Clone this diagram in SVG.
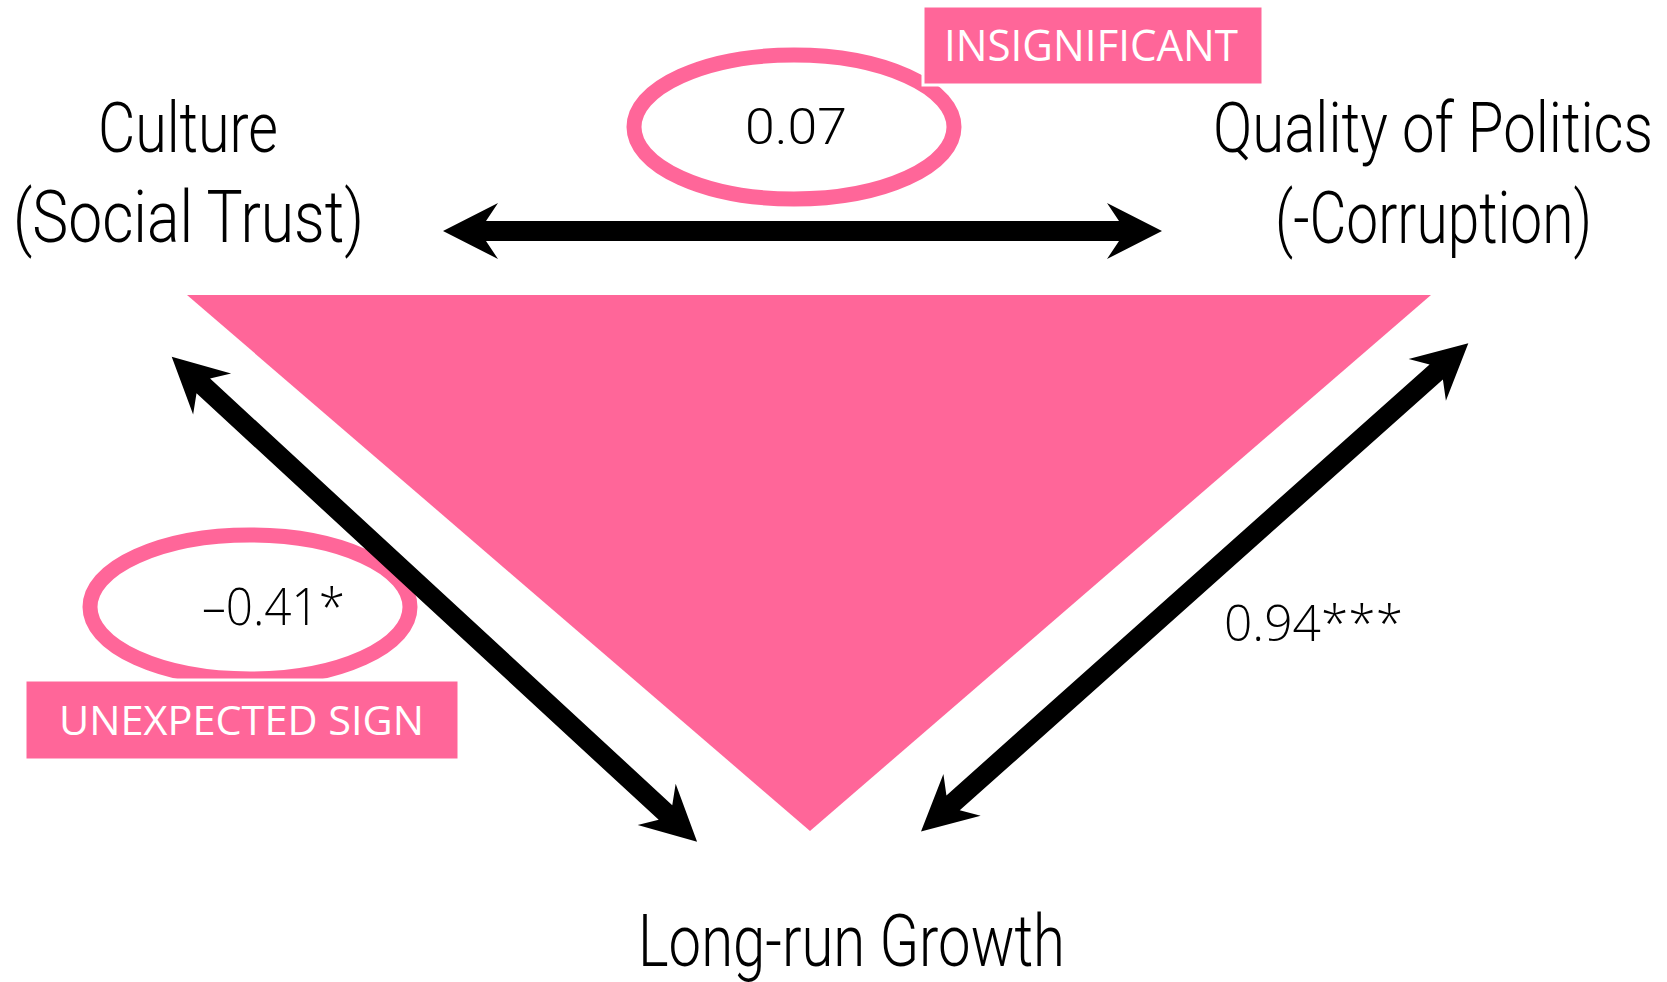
<svg xmlns="http://www.w3.org/2000/svg" width="1667" height="982" viewBox="0 0 1667 982">
<style>
.title{font-family:Roboto,"Liberation Sans",sans-serif;font-weight:300;fill:#000}
.num{font-family:"Open Sans","Noto Sans",sans-serif;font-weight:300;fill:#000}
.tag{font-family:"Open Sans","Noto Sans",sans-serif;font-weight:400;fill:#fff}
.ring{fill:#fff;stroke:#FF6699;stroke-width:15}
.box{fill:#FF6699;stroke:#fff;stroke-width:3}
.arrow{fill:#000}
</style>
<rect width="1667" height="982" fill="#fff"/>
<g id="triangle">
<polygon points="187,295 1431,295 810,831" fill="#FF6699"/>
</g>
<g id="culture">
<text class="title" x="98" y="152" font-size="70" textLength="180" lengthAdjust="spacingAndGlyphs">Culture</text>
<text class="title" x="13" y="242" font-size="72" textLength="351" lengthAdjust="spacingAndGlyphs">(Social Trust)</text>
</g>
<g id="politics">
<text class="title" x="1213" y="152" font-size="70" textLength="440" lengthAdjust="spacingAndGlyphs">Quality of Politics</text>
<text class="title" x="1275" y="243" font-size="72" textLength="317" lengthAdjust="spacingAndGlyphs">(-Corruption)</text>
</g>
<g id="growth">
<text class="title" x="638" y="966" font-size="73" textLength="427" lengthAdjust="spacingAndGlyphs">Long-run Growth</text>
</g>
<g id="label-top">
<ellipse class="ring" cx="794" cy="127" rx="160" ry="72"/>
<text class="title" x="745" y="144" font-size="50" textLength="102" lengthAdjust="spacingAndGlyphs">0.07</text>
<rect class="box" x="923" y="6" width="340" height="79"/>
<text class="tag" x="944" y="61" font-size="43" textLength="294" lengthAdjust="spacingAndGlyphs">INSIGNIFICANT</text>
</g>
<g id="label-left">
<ellipse class="ring" cx="250" cy="607" rx="160" ry="72"/>
<rect class="box" x="25" y="680" width="434" height="80"/>
<text class="tag" x="59" y="735" font-size="40" textLength="365" lengthAdjust="spacingAndGlyphs">UNEXPECTED SIGN</text>
</g>
<g id="connectors">
<path class="arrow" transform="translate(443,231)" d="M0,0 L55,-28 L43,-10 L676,-10 L664,-28 L719,0 L664,28 L676,10 L43,10 L55,28 Z"/>
<path class="arrow" transform="translate(171.7,356.7) rotate(42.71)" d="M0,0 L55,-28 L43,-10 L672,-10 L660,-28 L715,0 L660,28 L672,10 L43,10 L55,28 Z"/>
<path class="arrow" transform="translate(921,831.5) rotate(-41.73)" d="M0,0 L55,-28 L43,-10 L690.4,-10 L678.4,-28 L733.4,0 L678.4,28 L690.4,10 L43,10 L55,28 Z"/>
</g>
<g id="values">
<text class="num" x="202" y="625" font-size="52" textLength="143" lengthAdjust="spacingAndGlyphs">–0.41*</text>
<text class="num" x="1224" y="641" font-size="50" textLength="179" lengthAdjust="spacingAndGlyphs">0.94***</text>
</g>
</svg>
